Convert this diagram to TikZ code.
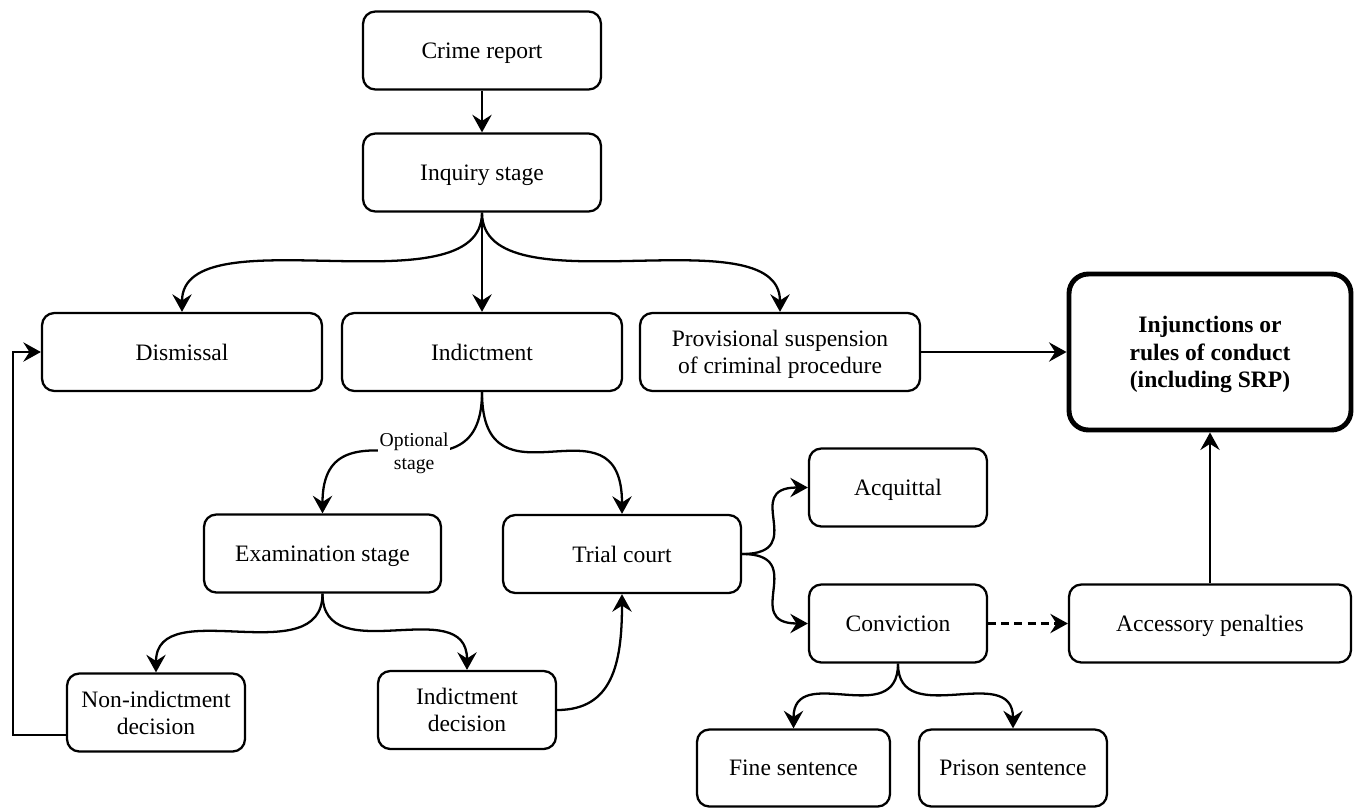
\documentclass[tikz,border=0pt]{standalone}
\usepackage{fontspec}
\setmainfont{Liberation Serif}
\usetikzlibrary{arrows.meta,positioning}

\begin{document}
\begin{tikzpicture}[x=0.02cm,y=-0.02cm,
    stage/.style={draw,line width=1.3pt,rounded corners=7pt,align=center,inner sep=2pt,
      font=\fontsize{13.4}{15.2}\selectfont,text depth=0pt,minimum height=1.56cm},
    flow/.style={line width=1.3pt,-{Stealth[length=10pt,width=11pt,inset=3.5pt]}}]
  \useasboundingbox (0,0) rectangle (1363,809);
  % inquiry and its three outcomes
  \node[stage,minimum width=4.76cm] (crime) at (482,50.5) {Crime report};
  \node[stage,minimum width=4.76cm] (inq) at (482,172.5) {Inquiry stage};
  \node[stage,minimum width=5.6cm] (dis) at (182,352) {Dismissal};
  \node[stage,minimum width=5.6cm] (ind) at (482,352) {Indictment};
  \node[stage,minimum width=5.6cm] (prov) at (780,352) {Provisional suspension\\of criminal procedure};
  \node[stage,minimum width=5.64cm,minimum height=3.12cm,line width=2.8pt,rounded corners=11pt,
    font=\fontsize{13.4}{15.8}\selectfont\bfseries] (inj) at (1210,352) {Injunctions or\\rules of conduct\\(including SRP)};
  % after indictment
  \node[stage,minimum width=4.74cm] (exam) at (322.5,553.5) {Examination stage};
  \node[stage,minimum width=4.76cm] (trial) at (622,554) {Trial court};
  \node[stage,minimum width=3.56cm] (acq) at (898,487.5) {Acquittal};
  \node[stage,minimum width=3.56cm] (conv) at (898,623.5) {Conviction};
  \node[stage,minimum width=5.64cm] (acc) at (1210,623.5) {Accessory penalties};
  \node[stage,minimum width=3.56cm] (nonind) at (156,712.5) {Non-indictment\\decision};
  \node[stage,minimum width=3.56cm] (inddec) at (467,710) {Indictment\\decision};
  \node[stage,minimum width=3.86cm,minimum height=1.54cm] (fine) at (793.5,768) {Fine sentence};
  \node[stage,minimum width=3.76cm,minimum height=1.54cm] (prison) at (1013,768) {Prison sentence};

  \draw[flow] (crime) -- (inq);
  \draw[flow] (inq.south) .. controls +(0,100) and +(0,-100) .. (dis.north);
  \draw[flow] (inq) -- (ind);
  \draw[flow] (inq.south) .. controls +(0,100) and +(0,-100) .. (prov.north);
  \draw[flow] (prov) -- (inj);
  \draw[flow] (ind.south) .. controls +(0,125) and +(0,-125) ..
    node[pos=0.45,fill=white,inner sep=1pt,align=center,font=\fontsize{11.2}{13}\selectfont] (opt) {Optional\\stage} (exam.north);
  \draw[flow] (ind.south) .. controls +(0,125) and +(0,-125) .. (trial.north);
  \draw[flow] (exam.south) .. controls +(0,80) and +(0,-80) .. (nonind.north);
  \draw[flow] (exam.south) .. controls +(0,78) and +(0,-78) .. (inddec.north);
  \draw[flow] ([yshift=-13pt]nonind.west) -- ++(-53,0) |- (dis.west);
  \draw[flow] (inddec.east) .. controls +(55,0) and +(0,70) .. (trial.south);
  \draw[flow] (trial.east) .. controls +(68,0) and +(-68,0) .. (acq.west);
  \draw[flow] (trial.east) .. controls +(68,0) and +(-68,0) .. (conv.west);
  \draw[flow,dash pattern=on 4.5pt off 3pt] (conv) -- (acc);
  \draw[flow] (acc) -- (inj);
  \draw[flow] (conv.south) .. controls +(0,67) and +(0,-67) .. (fine.north);
  \draw[flow] (conv.south) .. controls +(0,67) and +(0,-67) .. (prison.north);
\end{tikzpicture}
\end{document}
